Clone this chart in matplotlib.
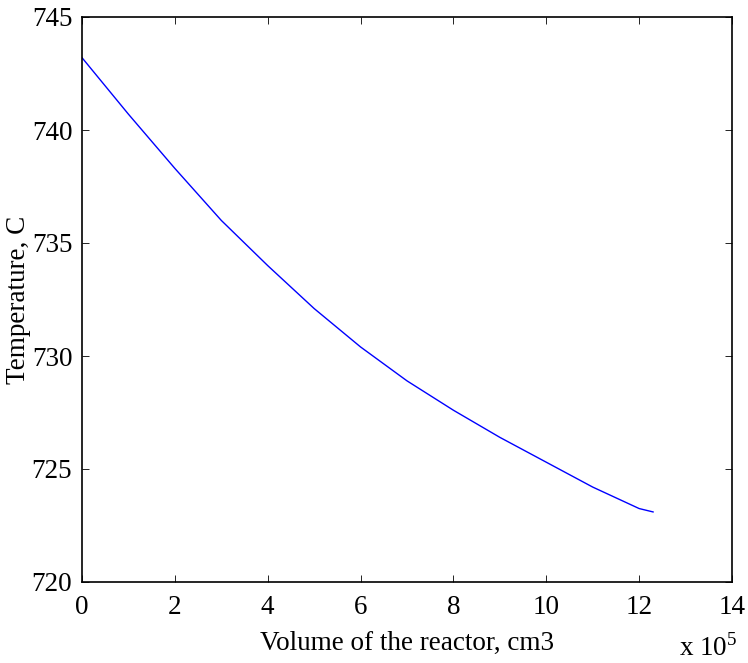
import matplotlib
matplotlib.use('Agg')
import matplotlib.pyplot as plt

# volume (x 1e5 cm3) and temperature (C)
volume = [0, 1, 2, 3, 4, 5, 6, 7, 8, 9, 10, 11, 12, 12.3]
temperature = [743.2, 740.7, 738.3, 736.0, 734.0, 732.1, 730.4, 728.9,
               727.6, 726.4, 725.3, 724.2, 723.25, 723.1]
xticks = [0, 2, 4, 6, 8, 10, 12, 14]
yticks = [720, 725, 730, 735, 740, 745]

plt.rcParams['font.family'] = ['Liberation Serif', 'DejaVu Serif']
plt.rcParams['mathtext.fontset'] = 'custom'
plt.rcParams['mathtext.rm'] = 'Liberation Serif'

fig = plt.figure(figsize=(7.48, 6.63), dpi=100)
ax = fig.add_axes([82 / 748, 1 - 582 / 663, 650 / 748, 565 / 663])
ax.plot(volume, temperature, color='#0000ff', lw=1.0)

ax.set_xlim(0, 14)
ax.set_ylim(720, 745)
ax.set_xticks(xticks)
ax.set_yticks(yticks)
ax.tick_params(direction='in', top=True, right=True, length=5, width=0.6,
               labelsize=19.5)
ax.tick_params(axis='x', pad=9)
ax.tick_params(axis='y', pad=7)
for s in ax.spines.values():
    s.set_linewidth(1.2)

ax.set_xlabel('Volume of the reactor, cm3', fontsize=19.5, labelpad=8)
ax.set_ylabel('Temperature, C', fontsize=19.5)
ax.yaxis.set_label_coords(-0.079, 0.5)
fig.text(737 / 748, 1 - 662 / 663, r'x 10$^{\mathrm{5}}$', fontsize=19.5, ha='right', va='bottom')

fig.savefig('out.png', dpi=100)
